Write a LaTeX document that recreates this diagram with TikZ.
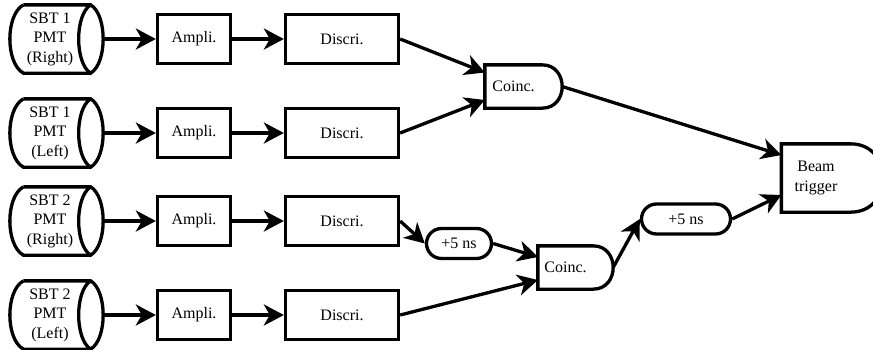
\documentclass[tikz,border=0pt]{standalone}
\usepackage{fontspec}
\setmainfont{Liberation Serif}
\usetikzlibrary{arrows.meta,shapes.misc}

\begin{document}
\begin{tikzpicture}[x=1pt,y=-1pt,font=\fontsize{16}{19.5}\selectfont,
  box/.style={draw,line width=3.3pt,minimum height=49pt,inner sep=0pt},
  pmt/.style={line width=3.3pt,minimum width=78pt,minimum height=65pt,inner sep=0pt,align=center},
  gate/.style={line width=3.3pt,minimum height=40pt,inner sep=0pt},
  delay/.style={draw,rounded rectangle,line width=3.3pt,minimum height=30pt,inner sep=0pt},
  sig/.style={line width=3.3pt,-{Stealth[length=20pt,width=21pt,inset=6pt]}}]
\useasboundingbox (0,0) rectangle (873,349);
\foreach \i/\y/\s/\t in {1/39/1/Right,2/133/1/Left,3/221/2/Right,4/315/2/Left} {
  \node[pmt] (pmt\i) at (50,\y) {SBT \s\\PMT\\(\t)};
  \draw[line width=3.3pt] ([xshift=14pt]pmt\i.north west) -- (pmt\i.north east)
    .. controls +(16.7,10) and +(16.7,-10) .. (pmt\i.south east)
    .. controls +(-16,-10) and +(-16,10) .. (pmt\i.north east);
  \draw[line width=3.3pt] ([xshift=14pt]pmt\i.north west)
    .. controls +(-18,10) and +(-18,-10) .. ([xshift=14pt]pmt\i.south west) -- (pmt\i.south east);
  \node[box,minimum width=73pt] (amp\i) at (194,\y) {Ampli.};
  \node[box,minimum width=113pt] (disc\i) at (342,\y) {Discri.};
  \draw[sig] ([xshift=12.5pt]pmt\i.east) -- (amp\i);
  \draw[sig] (amp\i) -- (disc\i);
}
\node[gate,minimum width=54pt] (coinc1) at (513.5,86.5) {Coinc.};
\node[gate,minimum width=52pt] (coinc2) at (565.5,267.5) {Coinc.};
\node[gate,minimum width=66pt,minimum height=65pt,align=center] (beam) at (816,178) {Beam\\trigger};
\foreach \n/\r in {coinc1/26.7,coinc2/26.7,beam/43.3}
  \draw[line width=3.3pt] (\n.south east) -- (\n.south west) -- (\n.north west) -- (\n.north east)
    .. controls +(\r,0) and +(\r,0) .. (\n.south east);
\node[delay,minimum width=65pt] (del1) at (459,243.5) {+5 ns};
\node[delay,minimum width=89pt] (del2) at (686,219) {+5 ns};
\draw[sig] (disc1.east) -- ([yshift=14pt]coinc1.west);
\draw[sig] (disc2.east) -- ([yshift=-13.5pt]coinc1.west);
\draw[sig] (disc3.east) -- (del1.west);
\draw[sig] (del1.east) -- ([yshift=10.5pt]coinc2.west);
\draw[sig] (disc4.east) -- ([yshift=-12.5pt]coinc2.west);
\draw[sig] ([xshift=20pt]coinc2.east) -- (del2.west);
\draw[sig] ([xshift=20pt]coinc1.east) -- ([yshift=23pt]beam.west);
\draw[sig] (del2.east) -- ([yshift=-17pt]beam.west);
\end{tikzpicture}
\end{document}
